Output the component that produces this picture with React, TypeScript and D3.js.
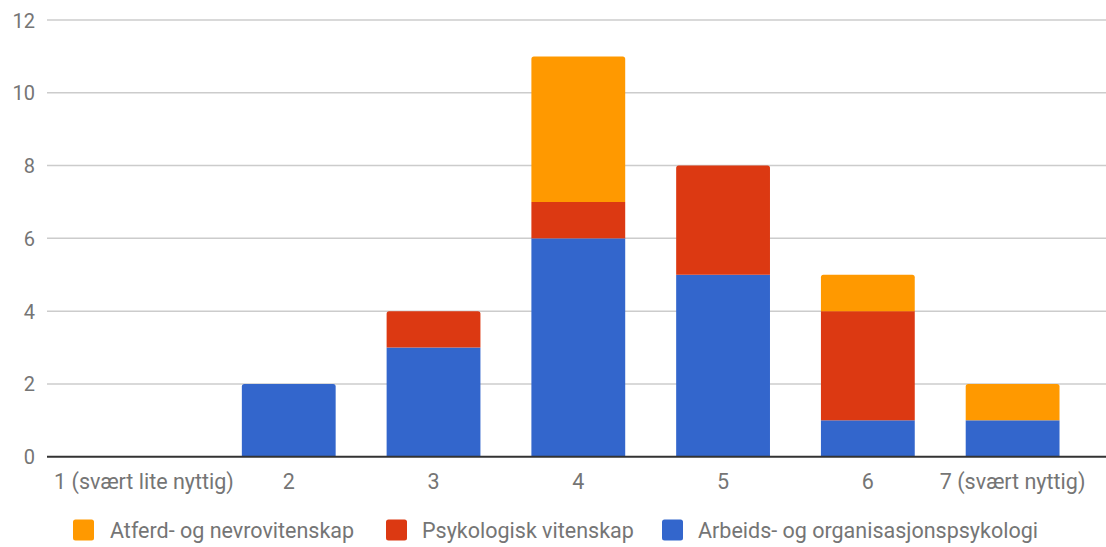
import React from "react";
import * as d3 from "d3";

const categories = ["1 (svært lite nyttig)", "2", "3", "4", "5", "6", "7 (svært nyttig)"];
const seriesNames = ["Arbeids- og organisasjonspsykologi", "Psykologisk vitenskap", "Atferd- og nevrovitenskap"];
const arbeids = [0, 2, 3, 6, 5, 1, 1];
const psykologisk = [0, 0, 1, 1, 3, 3, 0];
const atferd = [0, 0, 0, 4, 0, 1, 1];
const yTicks = [0, 2, 4, 6, 8, 10, 12];
const colors = ["#3366cc", "#dc3912", "#ff9900"];
const legendOrder = [2, 1, 0];

const W = 1106;
const H = 547;

function topRounded(x: number, y: number, w: number, h: number, r: number) {
  const rr = Math.min(r, h / 2, w / 2);
  return `M${x},${y + h}V${y + rr}Q${x},${y} ${x + rr},${y}H${x + w - rr}Q${x + w},${y} ${x + w},${y + rr}V${y + h}Z`;
}

export default function App() {
  const rows = categories.map((c, i) => ({ cat: c, s0: arbeids[i], s1: psykologisk[i], s2: atferd[i] }));
  const stack = d3.stack<any>().keys(["s0", "s1", "s2"]);
  const layers = stack(rows);

  const x = d3.scaleBand<string>().domain(categories).range([71.6, 1085]).paddingInner(0.352).paddingOuter(0.176);
  const y = d3.scaleLinear().domain([0, 12]).range([456.7, 20]);
  const gridX0 = 47;
  const gridX1 = W;
  const font = "Roboto, 'Noto Sans', sans-serif";
  const textColor = "#757575";

  const totals = rows.map((r) => r.s0 + r.s1 + r.s2);

  const legendItems = [
    { sx: 73, tx: 110 },
    { sx: 386, tx: 422 },
    { sx: 662, tx: 698 },
  ];

  return (
    <svg width={W} height={H} style={{ position: "absolute", left: 0, top: 0, display: "block", background: "#fff" }}>
      <rect x={0} y={0} width={W} height={H} fill="#fff" />
      {yTicks.map((t) => (
        <g key={t}>
          {t !== 0 && (
            <line x1={gridX0} x2={gridX1} y1={y(t)} y2={y(t)} stroke="#cccccc" strokeWidth={1.5} />
          )}
          <text x={35} y={y(t) + 7.5} textAnchor="end" fontFamily={font} fontSize={20} fill={textColor}>
            {t}
          </text>
        </g>
      ))}
      {layers.map((layer, li) =>
        layer.map((d, i) => {
          const v = d[1] - d[0];
          if (v <= 0) return null;
          const bx = x(categories[i]) as number;
          const bw = x.bandwidth();
          const y0 = y(d[0]);
          const y1 = y(d[1]);
          const isTop = Math.abs(d[1] - totals[i]) < 1e-9;
          if (isTop) {
            return <path key={`${li}-${i}`} d={topRounded(bx, y1, bw, y0 - y1, 2.5)} fill={colors[li]} />;
          }
          return <rect key={`${li}-${i}`} x={bx} y={y1} width={bw} height={y0 - y1} fill={colors[li]} />;
        })
      )}
      <line x1={gridX0} x2={gridX1} y1={y(0)} y2={y(0)} stroke="#333333" strokeWidth={2} />
      {categories.map((c) => (
        <text
          key={c}
          x={(x(c) as number) + x.bandwidth() / 2}
          y={489}
          textAnchor="middle"
          fontFamily={font}
          fontSize={21.5}
          fill={textColor}
        >
          {c}
        </text>
      ))}
      {legendOrder.map((si, k) => (
        <g key={si}>
          <rect x={legendItems[k].sx} y={519.5} width={21} height={21} rx={2.5} fill={colors[si]} />
          <text x={legendItems[k].tx} y={538} fontFamily={font} fontSize={21.5} fill={textColor}>
            {seriesNames[si]}
          </text>
        </g>
      ))}
    </svg>
  );
}
